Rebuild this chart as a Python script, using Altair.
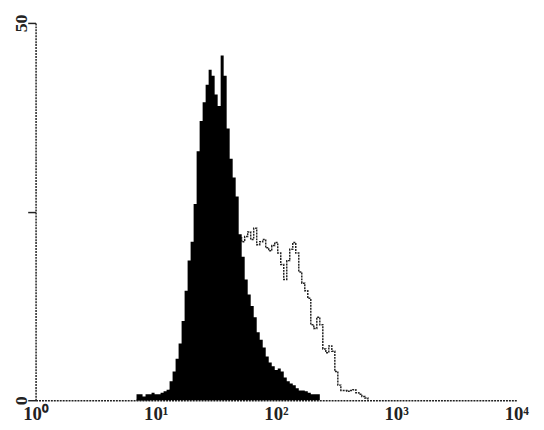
import altair as alt
import pandas as pd

# Histogram channels: log10 start and width of each bin (decades)
bin_log_start = 0.84
bin_log_width = 0.025

# Counts (filled = control, open = stained sample)
filled_counts = [
    0.8, 0.8, 0.5, 0.8, 0.8, 1.0, 0.8, 0.8, 1.0, 1.2,
    1.4, 2.5, 3.8, 5.5, 7.5, 10.5, 14.5, 18.5, 21.0, 26.0,
    33.0, 37.0, 39.5, 41.8, 43.8, 43.0, 40.5, 39.0, 45.7, 43.0,
    36.0, 32.0, 29.5, 27.0, 22.0, 19.0, 16.0, 14.0, 12.5, 11.0,
    9.0, 8.0, 7.0, 5.8, 5.0, 4.5, 4.0, 4.2, 3.8, 3.0,
    2.5, 2.2, 2.0, 1.6, 1.3, 1.3, 1.2, 1.0, 0.8, 0.8,
    0.8, 0, 0, 0, 0, 0, 0, 0, 0, 0,
    0, 0, 0, 0, 0, 0, 0,
]
open_counts = [
    0, 0, 0, 0, 0.1, 0.2, 0.3, 0.3, 0.5, 0.7,
    1.0, 1.3, 1.6, 2.2, 3.0, 4.0, 5.0, 6.2, 7.5, 8.8,
    10.0, 11.0, 12.5, 13.5, 14.5, 15.5, 16.5, 17.5, 18.0, 18.5,
    19.5, 20.0, 20.5, 21.0, 21.5, 21.0, 21.7, 22.3, 21.3, 22.8,
    20.6, 21.0, 21.3, 20.2, 19.8, 20.5, 20.9, 19.5, 18.0, 16.0,
    18.5, 20.0, 20.9, 19.5, 17.0, 15.5, 14.5, 13.5, 10.0, 9.5,
    11.0, 10.0, 6.8, 6.3, 7.2, 6.5, 3.8, 2.0, 1.3, 1.3,
    1.2, 1.3, 1.4, 1.0, 0.8, 0.5, 0.3,
]

x_ticks = [1, 10, 100, 1000, 10000]
x_tick_labels = ["10⁰", "10¹", "10²", "10³", "10⁴"]
y_ticks = [0, 25, 50]
y_tick_labels = ["0", "", "50"]

rows = []
n = len(filled_counts)
for i in range(n + 1):
    edge = 10 ** (bin_log_start + bin_log_width * i)
    f = filled_counts[i] if i < n else 0
    o = open_counts[i] if i < n else 0
    rows.append({"fl": edge, "filled": f, "open": o})
df = pd.DataFrame(rows)

xlabel_expr = "{" + ",".join(f"'{v}':'{l}'" for v, l in zip(x_ticks, x_tick_labels)) + "}[format(datum.value,'d')]"
ylabel_expr = "{" + ",".join(f"'{v}':'{l}'" for v, l in zip(y_ticks, y_tick_labels)) + "}[format(datum.value,'d')]"

x_enc = alt.X(
    "fl:Q",
    scale=alt.Scale(type="log", domain=[1, 10000], nice=False),
    axis=alt.Axis(
        values=x_ticks, labelExpr=xlabel_expr, title=None, grid=False,
        domainColor="#222", domainDash=[2, 1], domainWidth=1.5,
        ticks=False, labelFont="Liberation Serif", labelFontWeight="bold",
        labelFontSize=19, labelColor="#222", labelPadding=5,
        labelOverlap=False, labelFlush=False,
    ),
)
y_scale = alt.Scale(domain=[0, 50], nice=False)
y_axis = alt.Axis(
    values=y_ticks, labelExpr=ylabel_expr, title=None, grid=False,
    domainColor="#222", domainDash=[2, 1], domainWidth=1.5,
    tickColor="#222", tickSize=8, tickWidth=1.5,
    labelFont="Liberation Serif", labelFontWeight="bold", labelFontSize=18,
    labelColor="#222", labelAngle=-90, labelPadding=6, labelBaseline="middle",
    labelAlign="center", labelFlush=False, labelOverlap=False,
)

open_line = alt.Chart(df).mark_line(
    interpolate="step-after", color="#222222", strokeWidth=1.5, strokeDash=[2, 1]
).encode(
    x=x_enc,
    y=alt.Y("open:Q", scale=y_scale, axis=y_axis),
)
filled = alt.Chart(df).mark_area(interpolate="step-after", color="#000000", opacity=1).encode(
    x=x_enc,
    y=alt.Y("filled:Q", scale=y_scale, axis=y_axis),
)

chart = (
    alt.layer(open_line, filled)
    .properties(
        width=488, height=383,
        autosize=alt.AutoSizeParams(type="none"),
        padding={"left": 28, "top": 12, "right": 20, "bottom": 22},
        background="white",
    )
    .configure_view(stroke=None)
)

chart.save("out.html", embed_options={"renderer": "svg", "actions": False})
